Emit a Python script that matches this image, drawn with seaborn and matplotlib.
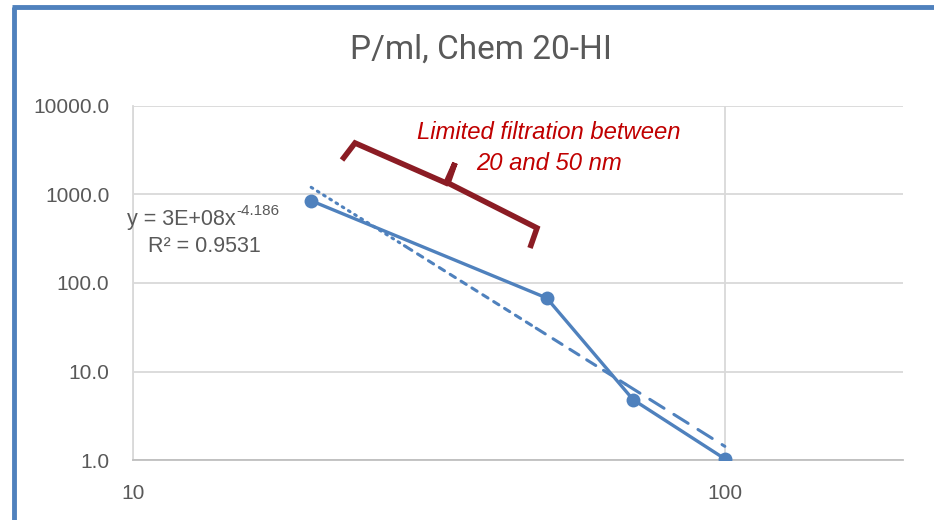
import numpy as np
import pandas as pd
import matplotlib
matplotlib.use("Agg")
import matplotlib.pyplot as plt
import seaborn as sns
from matplotlib.lines import Line2D
from matplotlib.ticker import FixedLocator, FuncFormatter, NullLocator

# ---- data ----
size_nm = [20, 50, 70, 100]
particles_per_ml = [850.0, 67.7, 4.8, 1.03]
title = "P/ml, Chem 20-HI"
y_ticks = [1, 10, 100, 1000, 10000]
x_ticks = [10, 100]
annotation = "Limited filtration between\n20 and 50 nm"
eq_base = "y = 3E+08x"
eq_exp = "-4.186"
r2_label = "R² = 0.9531"

df = pd.DataFrame({"size": size_nm, "pml": particles_per_ml})

sns.set_theme(style="white")
plt.rcParams["font.family"] = ["Liberation Sans", "DejaVu Sans"]

W, H = 934, 520
fig = plt.figure(figsize=(W / 100, H / 100), dpi=100)
ax = fig.add_axes([133 / W, (H - 460) / H, (903 - 133) / W, (460 - 106) / H])

blue = "#4F81BD"
grid = "#D9D9D9"
txt = "#595959"

ax.set_xscale("log")
ax.set_yscale("log")
ax.set_xlim(10, 200)
ax.set_ylim(1, 10000)

# power-law trendline fitted to the data (Excel style)
lx, ly = np.log10(df["size"]), np.log10(df["pml"])
b, a = np.polyfit(lx, ly, 1)
pieces = [(20, 29, (0.6, 1.8)), (29, 48, (2.0, 2.2)), (48, 68, (3.5, 3.0)), (68, 100, (5.5, 3.8))]
for x0, x1, dash in pieces:
    xs = np.geomspace(x0, x1, 50)
    ys = 10 ** (a + b * np.log10(xs))
    ax.plot(xs, ys, color=blue, lw=2.2, dashes=dash, dash_capstyle="round", zorder=2)

sns.lineplot(data=df, x="size", y="pml", ax=ax, color=blue, lw=2.4,
             marker="o", markersize=10, markeredgewidth=0, zorder=3)

# axes styling
ax.xaxis.set_major_locator(FixedLocator(x_ticks))
ax.yaxis.set_major_locator(FixedLocator(y_ticks))
ax.xaxis.set_minor_locator(NullLocator())
ax.yaxis.set_minor_locator(NullLocator())
ax.xaxis.set_major_formatter(FuncFormatter(lambda v, p: f"{v:.0f}"))
ax.yaxis.set_major_formatter(FuncFormatter(lambda v, p: f"{v:.1f}"))
ax.grid(True, color=grid, lw=1.3)
ax.set_xlabel("")
ax.set_ylabel("")
for s in ["top", "right"]:
    ax.spines[s].set_visible(False)
ax.spines["left"].set_color(grid)
ax.spines["left"].set_linewidth(1.3)
ax.spines["bottom"].set_color("#BFBFBF")
ax.spines["bottom"].set_linewidth(1.3)
ax.tick_params(axis="both", length=0, labelsize=15, labelcolor=txt)
ax.tick_params(axis="x", pad=17)
ax.tick_params(axis="y", pad=17)
ax.set_facecolor("white")

# title
fig.text(481 / W, 1 - 50 / H, title, ha="center", va="center", fontsize=24,
         color=txt, family=["Roboto", "Liberation Sans"], fontweight="normal")

# trendline equation
t1 = fig.text(127 / W, 1 - 219 / H, eq_base, ha="left", va="center",
              fontsize=15.5, color=txt)
fig.canvas.draw()
bb = t1.get_window_extent()
fig.text(bb.x1 / W + 0.5 / W, 1 - 211 / H, eq_exp, ha="left", va="center",
         fontsize=11, color=txt)
fig.text(148 / W, 1 - 246 / H, r2_label, ha="left", va="center",
         fontsize=15.5, color=txt)

# annotation text
fig.text(549 / W, 1 - 148 / H, annotation, ha="center", va="center", fontsize=17.2,
         style="italic", color="#C00000", linespacing=1.4)

# curly bracket (decoration), figure pixel coordinates
br = [(342, 160), (355, 143), (446, 183), (455, 163), (448, 183), (537, 228), (530, 248)]
bx = [p[0] / W for p in br]
by = [1 - p[1] / H for p in br]
fig.add_artist(Line2D(bx, by, color="#8B1C24", lw=4.0, solid_joinstyle="miter",
                      solid_capstyle="butt", transform=fig.transFigure))

# chart frame (Excel chart border, partly cropped)
fig.add_artist(Line2D([12 / W, 1.0], [1 - 7 / H, 1 - 7 / H], color=blue, lw=3.5,
                      solid_capstyle="butt", transform=fig.transFigure))
fig.add_artist(Line2D([14 / W, 14 / W], [0, 1 - 7 / H], color=blue, lw=3.5,
                      solid_capstyle="butt", transform=fig.transFigure))

fig.savefig("out.png", dpi=100, facecolor="white")
